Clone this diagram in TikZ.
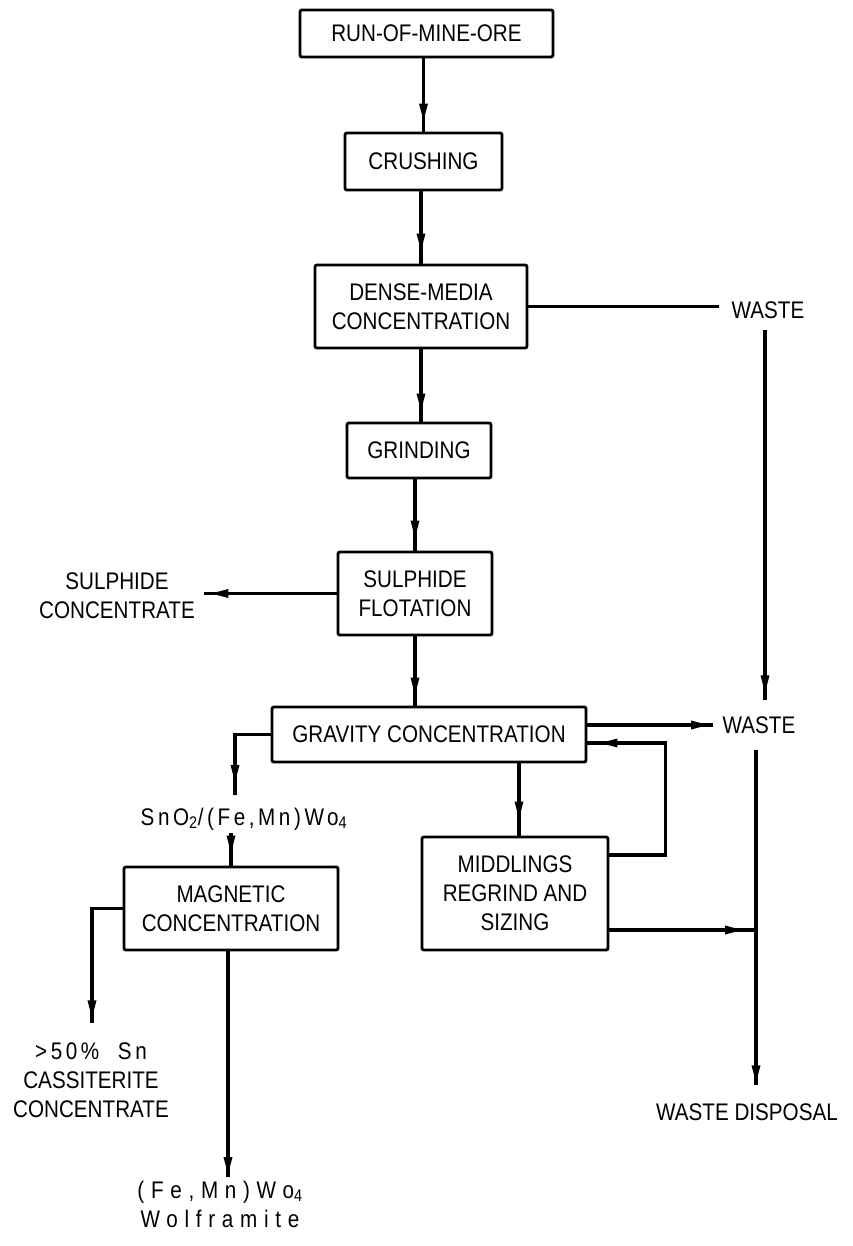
\documentclass[tikz,border=0pt]{standalone}
\usepackage{fontspec}
\setmainfont[FakeStretch=0.86]{Liberation Sans}
\newfontfamily\spacedA[FakeStretch=0.86,LetterSpace=15]{Liberation Sans}
\newfontfamily\spacedB[FakeStretch=0.86,LetterSpace=28]{Liberation Sans}
\usetikzlibrary{arrows.meta,decorations.markings}
\begin{document}
\begin{tikzpicture}[x=1pt,y=-1pt,line width=3.1pt,
  every node/.style={font=\fontsize{24}{29}\selectfont},
  box/.style={draw,line width=2.9pt,rounded corners=2pt,align=center,inner sep=0pt},
  lbl/.style={align=center,inner sep=0pt},
  conn/.style={line width=3.1pt},
  arr/.style={conn,postaction={decorate},decoration={markings,mark=at position #1 with {\arrow{Triangle[length=18pt,width=8pt]}}}},
  arr/.default=-11pt]
\path[fill=white,use as bounding box] (0,0) rectangle (852,1246);

% process boxes
\node[box,minimum width=253pt,minimum height=47pt] (rom) at (426.5,33.5) {RUN-OF-MINE-ORE};
\node[box,minimum width=157pt,minimum height=57pt] (crush) at (423.5,161.5) {CRUSHING};
\node[box,minimum width=212pt,minimum height=83pt] (dense) at (421,306.5) {DENSE-MEDIA\\CONCENTRATION};
\node[box,minimum width=144pt,minimum height=55pt] (grind) at (419,450.5) {GRINDING};
\node[box,minimum width=154pt,minimum height=83pt] (sf) at (415,593.5) {SULPHIDE\\FLOTATION};
\node[box,minimum width=314pt,minimum height=55pt] (grav) at (429,734.5) {GRAVITY CONCENTRATION};
\node[box,minimum width=214pt,minimum height=83pt] (mag) at (231,908.5) {MAGNETIC\\CONCENTRATION};
\node[box,minimum width=186pt,minimum height=113pt] (mid) at (515,893.5) {MIDDLINGS\\REGRIND AND\\SIZING};

% product labels
\node[lbl] (waste1) at (768,310) {WASTE};
\node[lbl] (sulcon) at (117,596) {SULPHIDE\\CONCENTRATE};
\node[lbl] (waste2) at (759,725) {WASTE};
\node[lbl,anchor=base] (sno) at (244,825) {\spacedA SnO\textsubscript{2}/(Fe,Mn)Wo\textsubscript{4}};
\node[lbl] (cass) at (91,1080) {{\spacedA >50\%\ \ Sn}\\CASSITERITE\\CONCENTRATE};
\node[lbl] (wolf) at (220,1204) {\spacedB (Fe,Mn)Wo\textsubscript{4}\\\spacedB Wolframite};
\node[lbl] (wdisp) at (747,1112) {WASTE DISPOSAL};

% main line
\draw[arr=-10pt] (crush.north |- rom.south) -- (crush.north);
\draw[arr=-12pt] (dense.north |- crush.south) -- (dense.north);
\draw[arr=-10pt] (dense.south) -- (dense.south |- grind.north);
\draw[arr=-12pt] (sf.north |- grind.south) -- (sf.north);
\draw[arr=-10pt] (sf.south) -- (sf.south |- grav.north);

% side streams
\draw[arr=-6pt] (sf.west) -- ([xshift=8pt]sf.west -| sulcon.east);
\draw[conn] (dense.east) -- ([xshift=-11pt]waste1.west |- dense.east);
\draw[arr=-7pt] ([xshift=-3pt,yshift=-9.5pt]waste1.south) -- ([xshift=-3pt,yshift=14.5pt]waste1.south |- waste2.north);
\draw[arr=-4pt] (grav.east |- waste2.west) -- ([xshift=-8pt]waste2.west);

% gravity products
\draw[arr=-12pt] (grav.west) -| ([xshift=-9pt,yshift=30pt]sno.base);
\draw[arr=-16pt] ([xshift=4pt]mid.north |- grav.south) -- ([xshift=4pt]mid.north);
\draw[arr=-12pt] ([yshift=38.5pt]mid.east) -| ([xshift=78pt,yshift=-8.5pt]grav.east) -- ([yshift=-8.5pt]grav.east);

% magnetic separation
\draw[arr=-12pt] ([yshift=-8pt]mag.north |- sno.base) -- (mag.north);
\draw[arr=-5pt] (mag.west) -| ([xshift=1pt,yshift=17.5pt]cass.north);
\draw[arr=-2pt] ([xshift=-3pt]mag.south) -- ([xshift=-3pt,yshift=2pt]mag.south |- wolf.north);

% waste disposal
\coordinate (mo) at ([yshift=-36.5pt]mid.east);
\coordinate (wtop) at ([xshift=-3pt,yshift=-14.5pt]waste2.south);
\draw[arr=-2pt] (wtop) -- ([yshift=16.5pt]wtop |- wdisp.north);
\draw[arr=-13pt] (mo) -- (mo -| wtop);
\end{tikzpicture}
\end{document}
